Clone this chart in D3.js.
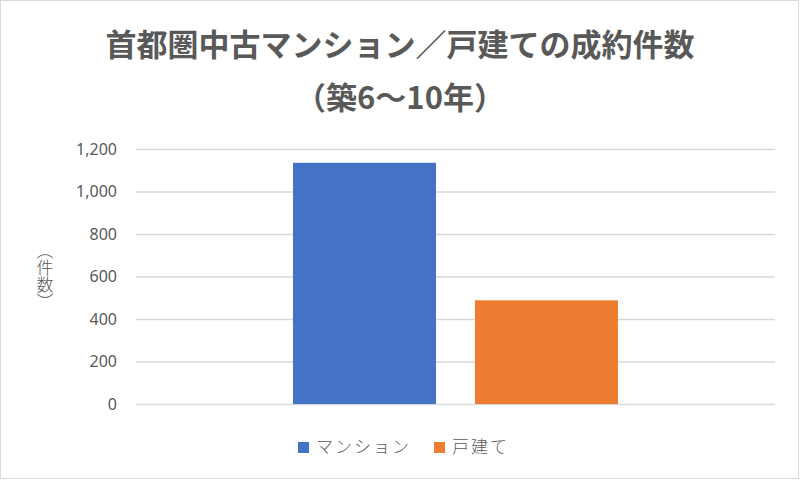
<!DOCTYPE html>
<html>
<head>
<meta charset="utf-8">
<script src="https://cdn.jsdelivr.net/npm/d3@7"></script>
<style>
  body { margin: 0; background: #fff; }
  text { font-family: "Noto Sans CJK JP", "Noto Sans", sans-serif; }
</style>
</head>
<body>
<div id="chart"></div>
<script>
// data
var categories = ['成約件数'];
var seriesNames = ['マンション', '戸建て'];
var seriesValues = [1135, 488];
var seriesColors = ['#4472c4', '#ed7d31'];
var yTicks = [0, 200, 400, 600, 800, 1000, 1200];

var width = 800, height = 480;
var plot = { left: 136, right: 775, top: 149, bottom: 404 };

var svg = d3.select('#chart').append('svg')
  .attr('width', width)
  .attr('height', height);

svg.append('rect')
  .attr('x', 0.5).attr('y', 0.5)
  .attr('width', width - 2).attr('height', height - 2)
  .attr('fill', '#fff')
  .attr('stroke', '#d9d9d9');

// title
svg.append('text')
  .attr('x', 400).attr('y', 56)
  .attr('text-anchor', 'middle')
  .attr('font-size', 31).attr('font-weight', 'bold')
  .attr('fill', '#595959')
  .text('首都圏中古マンション／戸建ての成約件数');
svg.append('text')
  .attr('x', 400).attr('y', 109)
  .attr('text-anchor', 'middle')
  .attr('font-size', 31).attr('font-weight', 'bold')
  .attr('fill', '#595959')
  .text('（築6〜10年）');

var y = d3.scaleLinear().domain([0, 1200]).range([plot.bottom, plot.top]);
var x0 = d3.scaleBand().domain(categories)
  .range([plot.left, plot.right]).paddingInner(0).paddingOuter(0.483);
var x1 = d3.scaleBand().domain(seriesNames)
  .range([0, x0.bandwidth()]).paddingInner(0.214);

// gridlines
var yAxis = d3.axisLeft(y).tickValues(yTicks)
  .tickSize(-(plot.right - plot.left))
  .tickPadding(19)
  .tickFormat(d3.format(','));
var ga = svg.append('g')
  .attr('transform', 'translate(' + plot.left + ',0)')
  .call(yAxis);
ga.select('.domain').remove();
ga.selectAll('.tick line').attr('stroke', '#d9d9d9').attr('stroke-width', 1.3);
ga.selectAll('.tick text')
  .attr('font-size', 16).attr('fill', '#595959')
  .style('font-family', '"Noto Sans", sans-serif');

// bars
svg.append('g').selectAll('rect')
  .data(seriesNames)
  .enter().append('rect')
  .attr('x', function(d) { return x0(categories[0]) + x1(d); })
  .attr('y', function(d, i) { return y(seriesValues[i]); })
  .attr('width', x1.bandwidth())
  .attr('height', function(d, i) { return y(0) - y(seriesValues[i]); })
  .attr('fill', function(d, i) { return seriesColors[i]; });

// y axis title, vertical writing
svg.append('text')
  .attr('x', 45).attr('y', 276)
  .attr('font-size', 17).attr('fill', '#595959')
  .attr('font-weight', 300)
  .attr('text-anchor', 'middle')
  .style('writing-mode', 'vertical-rl')
  .text('（件数）');

// legend
var legendX = [298, 434];
var lg = svg.append('g').selectAll('g')
  .data(seriesNames)
  .enter().append('g')
  .attr('transform', function(d, i) { return 'translate(' + legendX[i] + ',442)'; });
lg.append('rect')
  .attr('width', 11).attr('height', 11)
  .attr('fill', function(d, i) { return seriesColors[i]; });
lg.append('text')
  .attr('x', 18).attr('y', 11)
  .attr('font-size', 17).attr('fill', '#595959')
  .attr('font-weight', 300)
  .attr('letter-spacing', 2)
  .text(function(d) { return d; });
</script>
</body>
</html>
